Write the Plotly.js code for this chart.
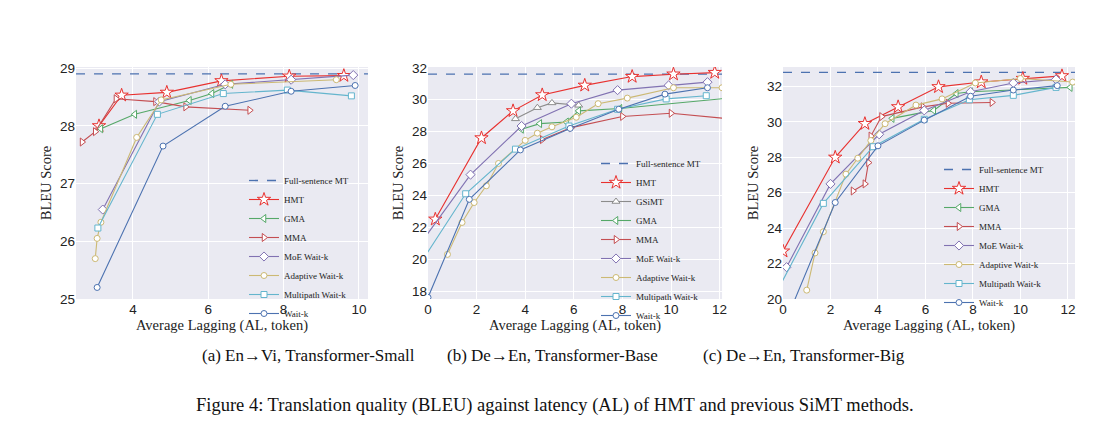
<!DOCTYPE html>
<html><head><meta charset="utf-8">
<script src="https://cdn.plot.ly/plotly-3.0.1.min.js"></script>
<style>body{margin:0;background:#fff}#c{width:1110px;height:436px}</style>
</head><body><div id="c"></div>
<script>
// ---- Panel (a) En->Vi, Transformer-Small ----
const a_full = 28.9;
const a_hmt_x = [3.1,3.7,4.9,6.35,8.15,9.6], a_hmt_y = [28.0,28.53,28.58,28.78,28.86,28.87];
const a_gma_x = [3.15,4.05,5.5,6.1,6.6], a_gma_y = [27.95,28.2,28.44,28.56,28.72];
const a_mma_x = [2.65,3.0,3.55,4.6,5.4,7.1], a_mma_y = [27.72,27.9,28.47,28.42,28.33,28.27];
const a_moe_x = [3.2,4.7,6.45,8.2,9.85], a_moe_y = [26.55,28.42,28.72,28.8,28.88];
const a_ada_x = [3.0,3.05,3.15,4.1,4.75,6.6,9.4], a_ada_y = [25.7,26.05,26.33,27.8,28.45,28.72,28.8];
const a_mp_x = [3.07,4.65,6.4,8.1,9.8], a_mp_y = [26.23,28.2,28.56,28.62,28.52];
const a_wk_x = [3.05,4.8,6.45,8.2,9.9], a_wk_y = [25.2,27.65,28.34,28.6,28.7];
// ---- Panel (b) De->En, Transformer-Base ----
const b_full = 31.6;
const b_hmt_x = [0.3,2.2,3.5,4.7,6.45,8.4,10.1,11.8], b_hmt_y = [22.5,27.6,29.3,30.3,30.9,31.45,31.6,31.7];
const b_gsi_x = [3.6,4.5,5.1,6.2], b_gsi_y = [28.8,29.5,29.8,29.65];
const b_gma_x = [3.85,4.6,5.7,6.2,7.9,12.4], b_gma_y = [28.15,28.5,28.6,29.3,29.45,30.1];
const b_mma_x = [4.7,5.9,8.0,10.0,12.4], b_mma_y = [27.5,28.25,28.95,29.15,28.8];
const b_moe_x = [-0.3,1.75,3.85,5.9,7.8,9.9,11.5], b_moe_y = [21.0,25.3,28.35,29.75,30.6,30.9,31.1];
const b_ada_x = [0.8,1.4,1.9,2.4,2.9,4.0,4.5,5.1,6.1,7.0,8.2,10.1,12.1], b_ada_y = [20.3,22.3,23.55,24.6,26.0,27.45,27.9,28.3,28.9,29.75,30.1,30.75,30.75];
const b_mp_x = [-0.5,1.55,3.6,5.8,7.8,9.8,11.45], b_mp_y = [19.3,24.1,26.9,28.35,29.4,30.05,30.25];
const b_wk_x = [0.0,1.7,3.8,5.85,7.85,9.75,11.5], b_wk_y = [17.6,23.75,26.85,28.2,29.4,30.35,30.75];
// ---- Panel (c) De->En, Transformer-Big ----
const c_full = 32.8;
const c_hmt_x = [0,2.2,3.45,4.85,6.55,8.35,10.1,11.75], c_hmt_y = [22.7,28.0,29.9,30.85,31.98,32.25,32.45,32.6];
const c_gma_x = [4.6,6.35,7.3,7.9,12.1], c_gma_y = [30.2,30.65,31.6,31.7,31.95];
const c_mma_x = [2.95,3.45,3.6,3.7,4.15,5.9,6.95,8.8], c_mma_y = [26.1,26.5,27.7,29.2,30.3,30.85,31.05,31.1];
const c_moe_x = [0.15,2.0,4.05,5.95,7.9,9.7,11.5], c_moe_y = [21.8,26.5,29.3,30.65,31.7,32.2,32.4];
const c_ada_x = [1.0,1.35,1.7,2.65,3.15,3.7,4.3,5.6,6.7,8.1,10.0,12.2], c_ada_y = [20.5,22.6,23.8,27.05,27.95,28.95,29.9,30.95,31.3,32.2,32.45,32.25];
const c_mp_x = [-0.5,1.7,3.8,5.95,7.85,9.7,11.5], c_mp_y = [19.8,25.4,28.6,30.15,31.25,31.5,31.95];
const c_wk_x = [-0.3,2.2,4.0,5.95,7.9,9.7,11.55], c_wk_y = [17.4,25.45,28.65,30.1,31.45,31.8,32.05];

const captions = ["(a) En→Vi, Transformer-Small","(b) De→En, Transformer-Base","(c) De→En, Transformer-Big"];
const figCaption = "Figure 4: Translation quality (BLEU) against latency (AL) of HMT and previous SiMT methods.";
const xTitle = "Average Lagging (AL, token)", yTitle = "BLEU Score";

const S = {
  hmt:{name:"HMT",color:"#E8312F",sym:"star",size:10},
  gsi:{name:"GSiMT",color:"#8C8C8C",sym:"triangle-up",size:7},
  gma:{name:"GMA",color:"#55A868",sym:"triangle-left",size:7},
  mma:{name:"MMA",color:"#C44E52",sym:"triangle-right",size:7},
  moe:{name:"MoE Wait-k",color:"#8172B2",sym:"diamond",size:7},
  ada:{name:"Adaptive Wait-k",color:"#CCB974",sym:"circle",size:6},
  mp:{name:"Multipath Wait-k",color:"#64B5CD",sym:"square",size:6},
  wk:{name:"Wait-k",color:"#4C72B0",sym:"circle",size:6}
};
const panels = [
  {full:a_full, xr:[2.49,10.24], yr:[25,29.02], dom:[0.0685,0.3315], yt:[25,26,27,28,29], xt:[4,6,8,10],
   series:{hmt:[a_hmt_x,a_hmt_y],gma:[a_gma_x,a_gma_y],mma:[a_mma_x,a_mma_y],moe:[a_moe_x,a_moe_y],ada:[a_ada_x,a_ada_y],mp:[a_mp_x,a_mp_y],wk:[a_wk_x,a_wk_y]},
   leg:{x:244,y:166}},
  {full:b_full, xr:[0,12.1], yr:[17.5,32.05], dom:[0.3856,0.6505], yt:[18,20,22,24,26,28,30,32], xt:[0,2,4,6,8,10,12],
   series:{hmt:[b_hmt_x,b_hmt_y],gsi:[b_gsi_x,b_gsi_y],gma:[b_gma_x,b_gma_y],mma:[b_mma_x,b_mma_y],moe:[b_moe_x,b_moe_y],ada:[b_ada_x,b_ada_y],mp:[b_mp_x,b_mp_y],wk:[b_wk_x,b_wk_y]},
   leg:{x:596,y:149}},
  {full:c_full, xr:[0,12.3], yr:[20,33.1], dom:[0.7054,0.9685], yt:[20,22,24,26,28,30,32], xt:[0,2,4,6,8,10,12],
   series:{hmt:[c_hmt_x,c_hmt_y],gma:[c_gma_x,c_gma_y],mma:[c_mma_x,c_mma_y],moe:[c_moe_x,c_moe_y],ada:[c_ada_x,c_ada_y],mp:[c_mp_x,c_mp_y],wk:[c_wk_x,c_wk_y]},
   leg:{x:939,y:155}}
];
const W=1110,H=436;
const traces=[]; const layout={width:W,height:H,margin:{l:0,r:0,t:0,b:0},paper_bgcolor:"#fff",plot_bgcolor:"#EAEAF2",
  font:{family:"Liberation Sans, Arial, sans-serif",color:"#222"},annotations:[],shapes:[]};
const serif="Liberation Serif, Times New Roman, serif";
panels.forEach((p,i)=>{
  const n=i+1, xa="x"+(n>1?n:""), ya="y"+(n>1?n:""), lg="legend"+(n>1?n:"");
  traces.push({x:p.xr,y:[p.full,p.full],xaxis:xa,yaxis:ya,legend:lg,mode:"lines",name:"Full-sentence MT",
    line:{color:"#4C72B0",dash:"dash",width:1.3}});
  for(const k in p.series){
    const s=S[k];
    traces.push({x:p.series[k][0],y:p.series[k][1],xaxis:xa,yaxis:ya,legend:lg,mode:"lines+markers",name:s.name,
      line:{color:s.color,width:1.1},marker:{symbol:s.sym,size:s.size,color:"#fff",line:{color:s.color,width:1}}});
  }
  const common={showgrid:true,gridcolor:"#fff",gridwidth:1,zeroline:false,showline:false,ticks:"",tickfont:{size:13.5,color:"#222"}};
  layout["xaxis"+(n>1?n:"")]=Object.assign({},common,{domain:p.dom,range:p.xr,tickvals:p.xt,anchor:ya,
    title:{text:xTitle,font:{family:serif,size:14.5},standoff:0}});
  layout["yaxis"+(n>1?n:"")]=Object.assign({},common,{domain:[0.3142,0.8463],range:p.yr,tickvals:p.yt,anchor:xa,
    title:{text:yTitle,font:{family:serif,size:14.5},standoff:4}});
  layout[lg]={x:p.leg.x/W,y:1-p.leg.y/H,xanchor:"left",yanchor:"top",bgcolor:"rgba(0,0,0,0)",
    font:{family:serif,size:9,color:"#222"},tracegroupgap:0,itemwidth:30};
  layout.annotations.push({xref:"paper",yref:"paper",x:(p.dom[0]+p.dom[1])/2-0.02,y:1-355/H,yanchor:"middle",text:captions[i],showarrow:false,
    font:{family:serif,size:17,color:"#111"}});
});
layout.annotations.push({xref:"paper",yref:"paper",x:0.5,y:1-405/H,yanchor:"middle",text:figCaption,showarrow:false,font:{family:serif,size:18.5,color:"#111"}});
Plotly.newPlot("c",traces,layout,{displayModeBar:false,staticPlot:true});
</script></body></html>
